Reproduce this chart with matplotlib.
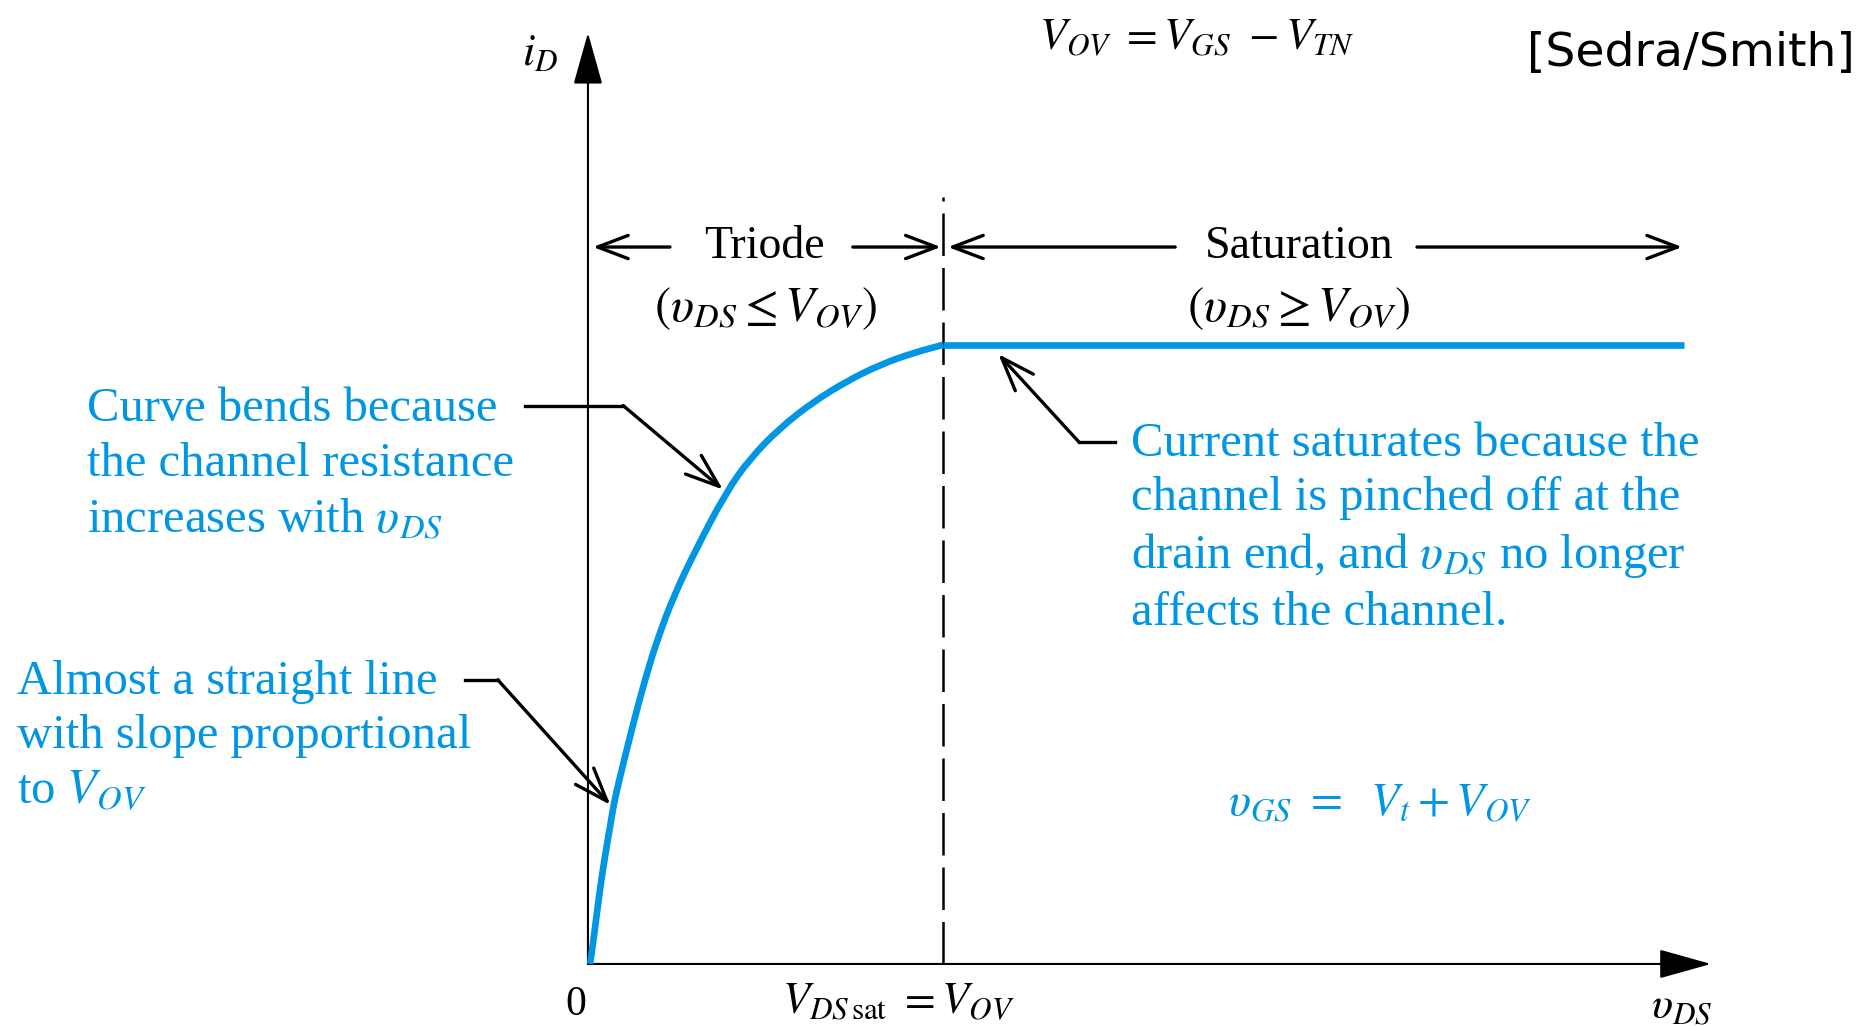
import numpy as np
import matplotlib
matplotlib.use('Agg')
import matplotlib.pyplot as plt
from matplotlib.path import Path
from matplotlib.patches import PathPatch

plt.rcParams['font.family'] = ['Liberation Serif', 'DejaVu Serif']
plt.rcParams['mathtext.fontset'] = 'stix'

# i_D - v_DS curve, both normalised to the saturation point (V_OV, I_Dsat)
v_triodo = [0.006, 0.018, 0.029, 0.043, 0.062, 0.071, 0.081, 0.104, 0.132, 0.165,
            0.198, 0.240, 0.300, 0.389, 0.456, 0.541, 0.635, 0.728, 0.823, 0.916, 1.0]
i_triodo = [0.0, 0.049, 0.100, 0.157, 0.221, 0.252, 0.280, 0.334, 0.398, 0.468,
            0.528, 0.592, 0.665, 0.762, 0.816, 0.866, 0.908, 0.941, 0.968, 0.987, 1.0]
v_sat = [1.0, 3.087]
i_sat = [1.0, 1.0]

v_ov = 1.0
v_max = 3.163
i_max = 1.504

azul = '#0096e4'
preto = 'black'


def caminho_suave(xs, ys):
    # bezier quadratica passando pelos pontos medios (tracado sem quinas)
    pts = list(zip(xs, ys))
    verts = [pts[0], ((pts[0][0] + pts[1][0]) / 2, (pts[0][1] + pts[1][1]) / 2)]
    codes = [Path.MOVETO, Path.LINETO]
    for a, b in zip(pts[1:-1], pts[2:]):
        verts += [a, ((a[0] + b[0]) / 2, (a[1] + b[1]) / 2)]
        codes += [Path.CURVE3, Path.CURVE3]
    verts.append(pts[-1])
    codes.append(Path.LINETO)
    return Path(verts, codes)


fig = plt.figure(figsize=(18.7, 10.26), dpi=100)
ax = fig.add_axes([0, 0, 1, 1])
ax.set_xlim(-1.656, 3.611)
ax.set_ylim(-0.1002, 1.557)
ax.axis('off')

# eixos com setas cheias
seta_eixo = dict(arrowstyle='-|>, head_length=1.5, head_width=0.42', color=preto,
                 lw=1.5, mutation_scale=22, shrinkA=0, shrinkB=0)
ax.annotate('', xy=(0, i_max), xytext=(0, 0), arrowprops=seta_eixo)
ax.annotate('', xy=(v_max, 0), xytext=(0, 0), arrowprops=seta_eixo)

# curva
ax.add_patch(PathPatch(caminho_suave(v_triodo, i_triodo), fill=False,
                       edgecolor=azul, lw=4.8, capstyle='butt', zorder=3))
ax.plot(v_sat, i_sat, color=azul, lw=4.8, solid_capstyle='butt', zorder=3)

# limite triodo / saturacao
ax.plot([v_ov, v_ov], [0, 1.239], color=preto, lw=1.8, dashes=(17, 4.8), zorder=2)

# rotulos dos eixos
ax.text(-0.135, 1.47, r'$i_D$', fontsize=32, ha='center', va='center')
ax.text(-0.034, -0.066, '0', fontsize=30, ha='center', va='center')
ax.text(0.873, -0.061, r'$V_{DS\,\mathrm{sat}}\ = V_{OV}$', fontsize=32,
        ha='center', va='center')
ax.text(3.082, -0.071, r'$\upsilon_{DS}$', fontsize=32, ha='center', va='center')
ax.text(1.713, 1.496, r'$V_{OV}\ = V_{GS}\ - V_{TN}$', fontsize=32,
        ha='center', va='center')
ax.text(3.569, 1.47, '[Sedra/Smith]', fontsize=34, family='DejaVu Sans',
        ha='right', va='center')

# regioes
seta_reg = dict(arrowstyle='->, head_length=1.0, head_width=0.38', color=preto,
                lw=2.4, mutation_scale=22, shrinkA=0, shrinkB=0)
y_reg = 1.158
ax.text(0.496, y_reg, 'Triode', fontsize=33, ha='center', va='center')
ax.annotate('', xy=(0.014, y_reg), xytext=(0.231, y_reg), arrowprops=seta_reg)
ax.annotate('', xy=(0.994, y_reg), xytext=(0.746, y_reg), arrowprops=seta_reg)
ax.text(2.003, y_reg, 'Saturation', fontsize=33, ha='center', va='center')
ax.annotate('', xy=(1.014, y_reg), xytext=(1.654, y_reg), arrowprops=seta_reg)
ax.annotate('', xy=(3.082, y_reg), xytext=(2.335, y_reg), arrowprops=seta_reg)
ax.text(0.501, 1.058, r'$(\upsilon_{DS} \leq V_{OV})$', fontsize=35,
        ha='center', va='center')
ax.text(2.003, 1.058, r'$(\upsilon_{DS} \geq V_{OV})$', fontsize=35,
        ha='center', va='center')

# textos explicativos
ax.text(-1.411, 0.807, 'Curve bends because\nthe channel resistance\n'
        r'increases with $\upsilon_{DS}$', fontsize=35, color=azul,
        ha='left', va='center', linespacing=1.32)
ax.text(-1.608, 0.367, 'Almost a straight line\nwith slope proportional\n'
        r'to $V_{OV}$', fontsize=35, color=azul, ha='left', va='center',
        linespacing=1.32)
ax.text(1.530, 0.704, 'Current saturates because the\nchannel is pinched off at the\n'
        r'drain end, and $\upsilon_{DS}$ no longer' '\naffects the channel.',
        fontsize=35, color=azul, ha='left', va='center', linespacing=1.3)
ax.text(1.803, 0.257, r'$\upsilon_{GS}\ =\ \ V_t + V_{OV}$', fontsize=33.5,
        color=azul, ha='left', va='center')

# setas das anotacoes
seta_nota = dict(arrowstyle='->, head_length=1.1, head_width=0.4', color=preto,
                 lw=2.4, mutation_scale=22, shrinkA=0, shrinkB=3)
k = 13
ax.plot([-0.177, 0.099], [0.902, 0.902], color=preto, lw=2.4)
ax.annotate('', xy=(v_triodo[k], i_triodo[k]), xytext=(0.099, 0.902),
            arrowprops=seta_nota)
k = 5
ax.plot([-0.346, -0.254], [0.459, 0.459], color=preto, lw=2.4)
ax.annotate('', xy=(v_triodo[k], i_triodo[k]), xytext=(-0.254, 0.459),
            arrowprops=seta_nota)
ax.plot([1.383, 1.485], [0.843, 0.843], color=preto, lw=2.4)
ax.annotate('', xy=(1.132, i_sat[0]), xytext=(1.383, 0.843),
            arrowprops=dict(seta_nota, shrinkB=9))

fig.savefig('out.png', dpi=100, facecolor='white')
